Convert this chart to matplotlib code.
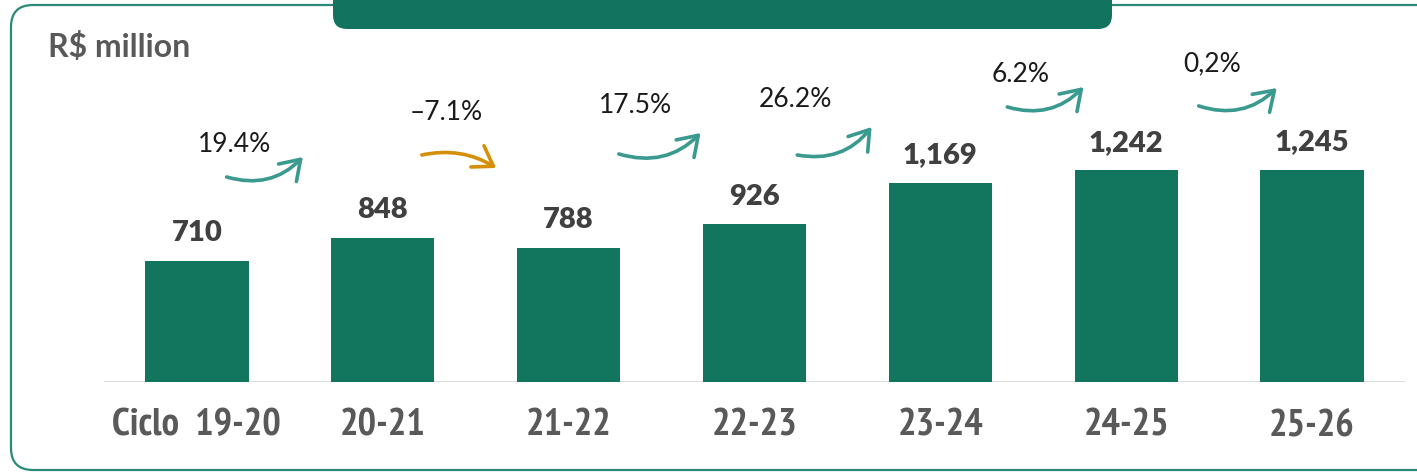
import matplotlib.pyplot as plt
from matplotlib import font_manager
from matplotlib.font_manager import FontProperties
from matplotlib.patches import FancyBboxPatch, FancyArrowPatch

# data
cycles = ['19-20', '20-21', '21-22', '22-23', '23-24', '24-25', '25-26']
revenue = [710, 848, 788, 926, 1169, 1242, 1245]
growth_labels = ['19.4%', '\u20137.1%', '17.5%', '26.2%', '6.2%', '0,2%']
growth_up = [True, False, True, True, True, True]

# layout of the growth annotations (offset from bar index, y in data units)
pct_dx = [0.20, 0.34, 0.36, 0.22, 0.43, 0.46]
pct_y = [1397, 1585, 1621, 1656, 1803, 1867]
arrow_start = [(0.16, 1204), (0.21, 1333), (0.27, 1339), (0.23, 1333), (0.36, 1615), (0.39, 1621)]
arrow_end = [(0.57, 1321), (0.61, 1257), (0.71, 1462), (0.63, 1497), (0.77, 1732), (0.81, 1726)]

BAR = '#12765f'
TEAL = '#3a9a90'
ORANGE = '#d4900a'
LATO = ['Lato', 'DejaVu Sans']


def _weight(w):
    return w if isinstance(w, int) else font_manager.weight_dict.get(w, 400)


def _narrow(f):
    s = f.stretch
    st = s if isinstance(s, int) else font_manager.stretch_dict.get(s, 500)
    return 'Narrow' in f.name or 'Condensed' in f.name or 'Condensed' in f.fname or st < 500


# narrow bold face for the cycle labels, if one is installed
cands = [f for f in font_manager.fontManager.ttflist
         if _narrow(f) and 600 <= _weight(f.weight) <= 800 and f.style == 'normal']
cands.sort(key=lambda f: (0 if 'Narrow' in f.name else 1, f.name))
if cands:
    tick_fp = FontProperties(fname=cands[0].fname, size=28)
else:
    tick_fp = FontProperties(family=['Roboto', 'DejaVu Sans'], weight='bold', size=23)

fig = plt.figure(figsize=(14.17, 4.73), dpi=100)

# frame and header box, drawn in pixel coordinates
bg = fig.add_axes([0, 0, 1, 1], zorder=0)
bg.set_xlim(0, 1417)
bg.set_ylim(473, 0)
bg.axis('off')
bg.add_patch(FancyBboxPatch((11, 5), 1440, 465, boxstyle='round,pad=0,rounding_size=22',
                            fc='white', ec='#2a8a78', lw=1.6))
bg.add_patch(FancyBboxPatch((333, -40), 779, 69, boxstyle='round,pad=0,rounding_size=14',
                            fc='#12735f', ec='none', zorder=3))
bg.text(48, 47, 'R$ million', fontsize=23, fontweight='bold', color='#595959',
        family=LATO, va='center', ha='left')

ax = fig.add_axes([104 / 1417, 91 / 473, 1301 / 1417, 382 / 473], zorder=1)
ax.patch.set_alpha(0)
x = list(range(len(cycles)))
ax.bar(x, revenue, width=0.555, color=BAR, zorder=2)
ax.set_xlim(-0.5, 6.5)
ax.set_ylim(0, 2243)
ax.axhline(0, color='#d9d9d9', lw=2, zorder=1)

for s in ax.spines.values():
    s.set_visible(False)
ax.set_yticks([])
ax.set_xticks(x)
ax.set_xticklabels(['Ciclo  ' + cycles[0]] + cycles[1:], fontproperties=tick_fp,
                   color='#595959')
ax.tick_params(axis='x', length=0, pad=19)

for i, v in enumerate(revenue):
    ax.annotate(f'{v:,}', (i, v), xytext=(0, 20), textcoords='offset points',
                ha='center', va='center', fontsize=21, fontweight='heavy',
                color='#404040', family=LATO)

for i, lab in enumerate(growth_labels):
    ax.text(i + pct_dx[i], pct_y[i], lab, ha='center', va='center', fontsize=19,
            color='#1a1a1a', family=LATO)
    (sx, sy), (ex, ey) = arrow_start[i], arrow_end[i]
    col = TEAL if growth_up[i] else ORANGE
    rad = 0.3 if growth_up[i] else -0.2
    arr = FancyArrowPatch((i + sx, sy), (i + ex, ey), connectionstyle=f'arc3,rad={rad}',
                          arrowstyle='->,head_length=0.75,head_width=0.5', mutation_scale=18,
                          color=col, lw=2.6, shrinkA=0, shrinkB=0, capstyle='round')
    ax.add_patch(arr)

fig.savefig('out.png', dpi=100)
